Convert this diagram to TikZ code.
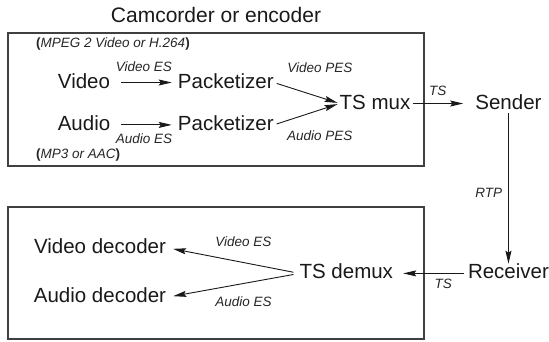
\documentclass[tikz,border=0pt]{standalone}
\usepackage{fontspec}
\setmainfont{Liberation Sans}
\usetikzlibrary{positioning,arrows.meta}
\tikzstyle{gbox}=[rectangle, draw=black!75, line width=1.3pt, minimum width=416pt, inner sep=0pt]
\tikzstyle{tbox}=[rectangle, inner sep=0pt, text height=15pt, text depth=4pt, text=black!90,
                  font=\fontsize{20.5}{24}\selectfont]
\tikzstyle{ibox}=[rectangle, inner sep=0pt, text height=10pt, text depth=3pt, text=black!85,
                  font=\fontsize{13.5}{16}\selectfont\itshape]
\tikzstyle{pline}=[-{Stealth[length=13pt,width=6pt,inset=2pt]}, line width=0.9pt, black!90]
\newcommand{\bpar}[1]{{\upshape\bfseries #1}}

\begin{document}
\begin{tikzpicture}[x=1pt,y=-1pt]
\useasboundingbox (0,0) rectangle (549,341);

\node (ENC) [gbox, minimum height=133pt] at (216,99.5) {};
\node (CAMT) [tbox, font=\fontsize{21}{24}\selectfont, above=6pt of ENC] {Camcorder or encoder};
\node (MPEG) [ibox, anchor=west] at (36,44) {\bpar{(}MPEG 2 Video or H.264\bpar{)}};
\node (MPTHREE) [ibox, anchor=west] at (36,155) {\bpar{(}MP3 or AAC\bpar{)}};

\node (VID) [tbox] at (84,82.5) {Video};
\node (VPKT) [tbox, right=67.5pt of VID] {Packetizer};
\node (AUD) [tbox, below=23pt of VID] {Audio};
\node (APKT) [tbox, below=23pt of VPKT] {Packetizer};
\node (MUX) [tbox] at (375,103.5) {TS mux};
\node (SND) [tbox, right=64.7pt of MUX] {Sender};

 \draw[pline, shorten <=11pt, shorten >=6pt] (VID.east) -- (VPKT.west)
   node[ibox, midway, above=7.5pt] {Video ES};
 \draw[pline, shorten <=11pt, shorten >=6pt] (AUD.east) -- (APKT.west)
   node[ibox, midway, below=8.5pt] {Audio ES};
 \draw[pline, shorten <=3pt, shorten >=2pt] (VPKT.east) -- (MUX.west)
   node[ibox, pos=0.7, above=21pt] {Video PES};
 \draw[pline, shorten <=3pt, shorten >=2pt] (APKT.east) -- (MUX.west)
   node[ibox, pos=0.7, below=20pt] {Audio PES};
 \draw[pline, shorten <=2pt, shorten >=12pt] (MUX.east) -- (SND.west)
   node[ibox, pos=0.42, above=4.5pt] {TS};

\node (DEC) [gbox, minimum height=132pt] at (216,273) {};
\node (RCV) [tbox, below=150.5pt of SND] {Receiver};
\node (DMX) [tbox, left=74.6pt of RCV] {TS demux};
\node (VDEC) [tbox] at (100,247.5) {Video decoder};
\node (ADEC) [tbox, below=30.5pt of VDEC] {Audio decoder};

 \draw[pline] (SND.south) -- (RCV.north)
   node[ibox, pos=0.54, left=6pt] {RTP};
 \draw[pline, shorten <=4pt, shorten >=10pt] (RCV.west) -- (DMX.east)
   node[ibox, pos=0.33, below=5pt] {TS};
 \draw[pline, shorten <=6pt, shorten >=7pt] (DMX.west) -- (VDEC.east)
   node[ibox, pos=0.42, above=12.4pt] {Video ES};
 \draw[pline, shorten <=6pt, shorten >=7pt] (DMX.west) -- (ADEC.east)
   node[ibox, pos=0.42, below=12.8pt] {Audio ES};

\end{tikzpicture}
\end{document}
